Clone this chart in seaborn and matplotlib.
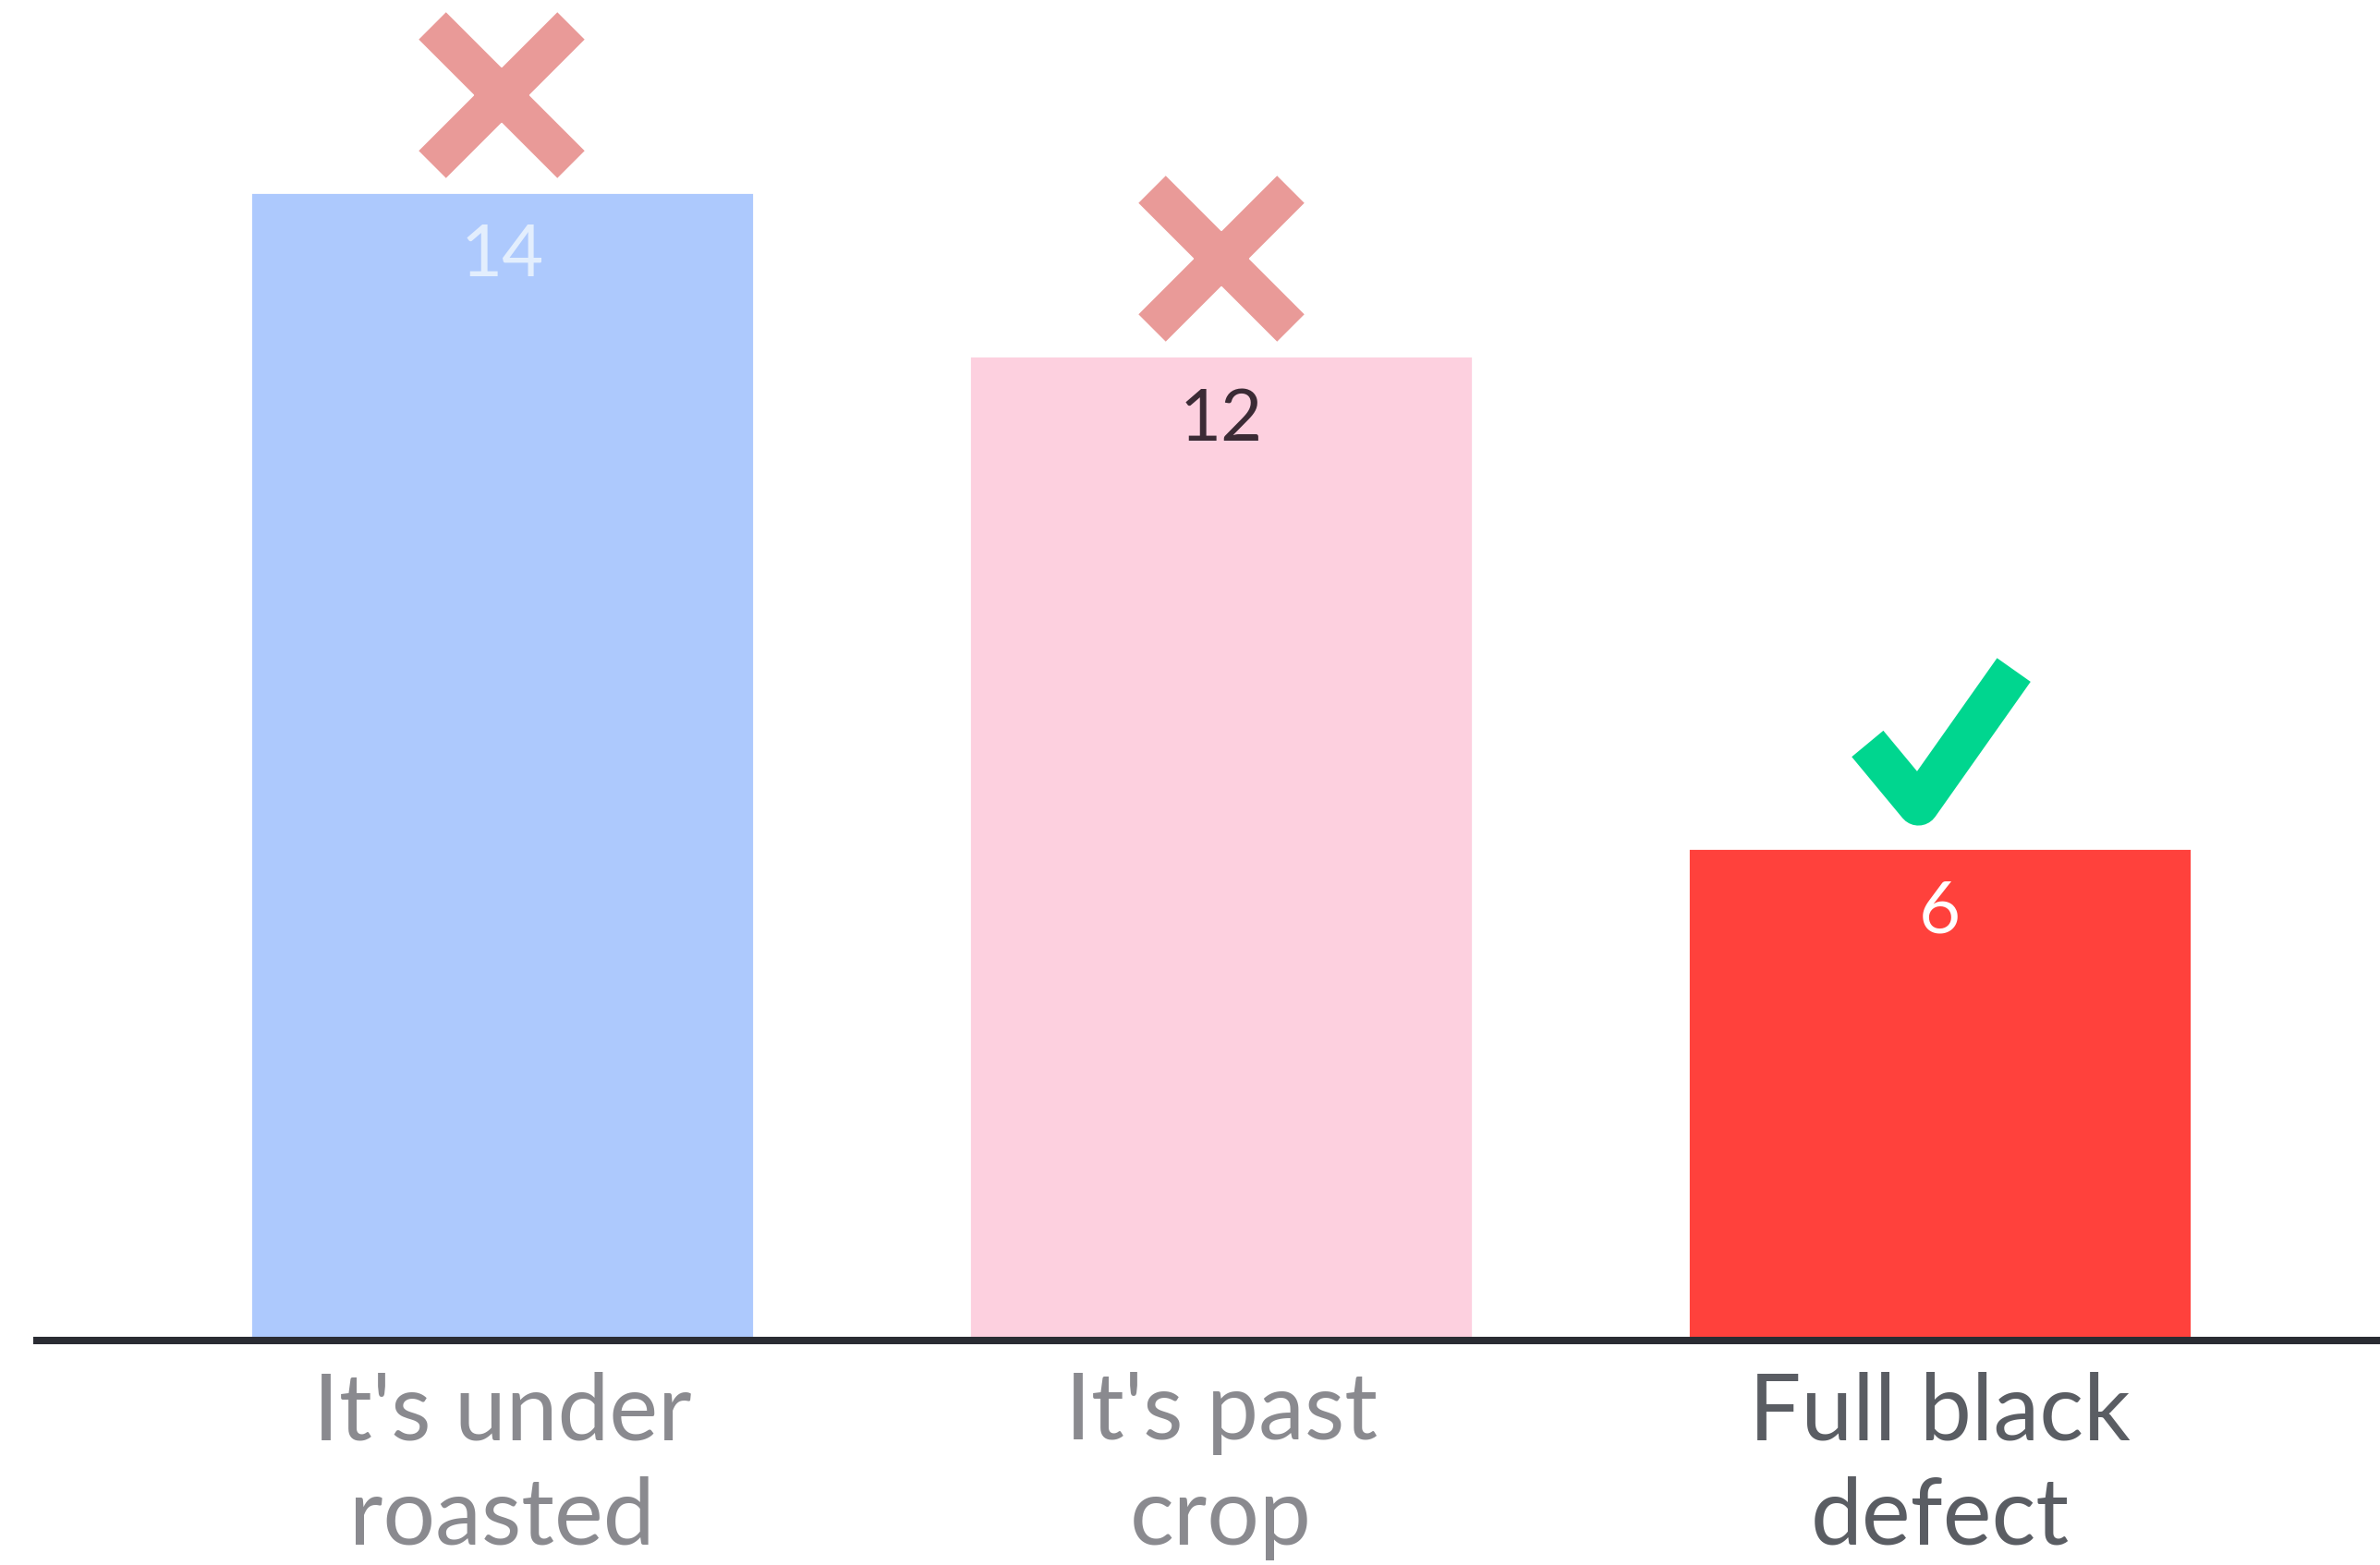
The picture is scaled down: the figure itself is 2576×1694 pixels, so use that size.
import matplotlib
matplotlib.use("Agg")
import matplotlib.pyplot as plt
import matplotlib.transforms as mtransforms
from matplotlib.markers import MarkerStyle
from matplotlib.path import Path
import pandas as pd
import seaborn as sns

# data
categories = ["It's under\nroasted", "It's past\ncrop", "Full black\ndefect"]
values = [14, 12, 6]
bar_colors = ["#adc9fd", "#fdd0df", "#ff413c"]
value_colors = ["#e3eefd", "#3b2b35", "#ffffff"]
label_colors = ["#8a8a8f", "#8a8a8f", "#5a5d63"]
verdicts = ["wrong", "wrong", "right"]

sns.set_theme(style="white")
plt.rcParams["font.family"] = ["Lato", "DejaVu Sans"]

W, H, DPI = 2576, 1694, 200
fig = plt.figure(figsize=(W / DPI, H / DPI), dpi=DPI)
fig.patch.set_facecolor("white")
ax = fig.add_axes([40 / W, 243 / H, 1 - 40 / W, 1 - 243 / H])

df = pd.DataFrame({"category": categories, "value": values})
sns.barplot(
    data=df, x="category", y="value", hue="category", palette=bar_colors,
    width=0.7, saturation=1, legend=False, ax=ax,
)

ax.set_xlim(-0.647, 2.612)
ax.set_ylim(0, 16.34)
ax.set_xlabel("")
ax.set_ylabel("")
ax.set_yticks([])
for side in ["left", "right", "top"]:
    ax.spines[side].set_visible(False)
ax.spines["bottom"].set_color("#2a2c33")
ax.spines["bottom"].set_linewidth(2.9)
ax.spines["bottom"].set_zorder(5)

ax.tick_params(axis="x", length=0, pad=12, labelsize=36)
for t, c in zip(ax.get_xticklabels(), label_colors):
    t.set_color(c)
    t.set_linespacing(1.3)

# value labels just inside the bar tops
for i, (v, c) in enumerate(zip(values, value_colors)):
    ax.annotate(str(v), xy=(i, v), xytext=(0, -33), textcoords="offset points",
                ha="center", va="baseline", fontsize=28, color=c)

# cross / tick marks above the bars
check = MarkerStyle(
    Path([(-0.525, -0.05), (-0.16, -0.49), (0.525, 0.48)],
         [Path.MOVETO, Path.LINETO, Path.LINETO]),
    fillstyle="none", joinstyle="miter", capstyle="butt",
)
for i, (v, verdict) in enumerate(zip(values, verdicts)):
    if verdict == "wrong":
        off = mtransforms.ScaledTranslation(0, 37.8 / 72, fig.dpi_scale_trans)
        ax.plot([i], [v], marker="x", ms=54, mew=15, color="#e99a98",
                transform=ax.transData + off, clip_on=False)
    else:
        off = mtransforms.ScaledTranslation(0, 43.6 / 72, fig.dpi_scale_trans)
        ax.plot([i], [v], marker=check, ms=57, mew=16, color="#00d68f",
                mfc="none", transform=ax.transData + off, clip_on=False)

fig.savefig("out.png", dpi=DPI)
plt.close(fig)
